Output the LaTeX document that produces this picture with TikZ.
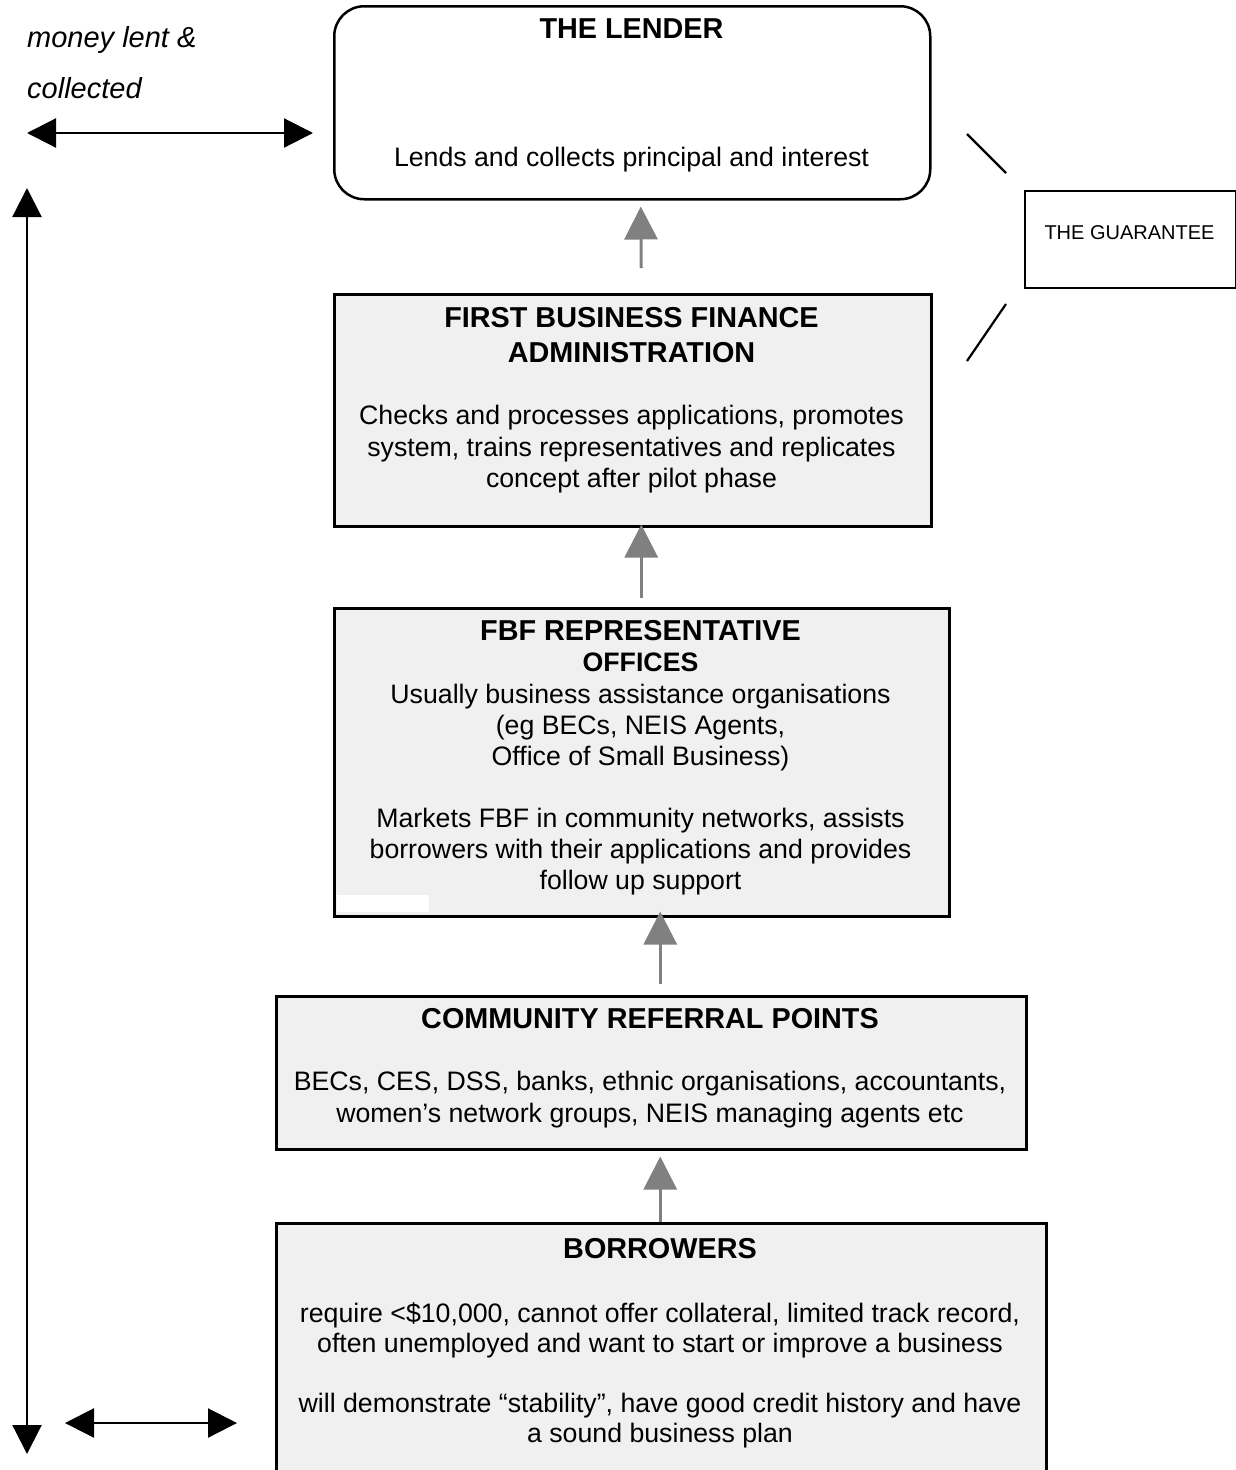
\documentclass[tikz,border=0pt]{standalone}
\usepackage{fontspec}
\setmainfont{Liberation Sans}
\usetikzlibrary{arrows.meta}
\definecolor{boxfill}{RGB}{240,240,240}
\definecolor{arrowgray}{RGB}{128,128,128}
\begin{document}
\begin{tikzpicture}[x=1pt,y=-1pt,
  box/.style={draw=black, line width=2.5pt, fill=boxfill, anchor=north west, inner sep=0pt},
  body/.style={anchor=base, inner sep=0pt, font=\fontsize{26.7}{31}\selectfont},
  title/.style={anchor=base, inner sep=0pt, font=\fontsize{28.8}{33}\selectfont\bfseries},
  garrow/.style={draw=arrowgray, line width=3pt, -{Triangle[width=33pt,length=33pt]}},
  barrow/.style={draw=black, line width=2.2pt, {Triangle[width=29pt,length=29pt]}-{Triangle[width=29pt,length=29pt]}},
  thinline/.style={draw=black, line width=2.2pt}
]
\clip (0,0) rectangle (1236,1470);
\fill[white] (0,0) rectangle (1236,1470);

% boxes
\node[box, fill=white, rounded corners=30pt, minimum width=596pt, minimum height=193pt] (lender) at (333,5) {};
\node[box, minimum width=597pt, minimum height=232pt] (fbf) at (333,293) {};
\node[box, minimum width=615pt, minimum height=308pt] (rep) at (333,607) {};
\fill[white] (337,895) rectangle (429,912);
\node[box, minimum width=750pt, minimum height=153pt] (comm) at (275,995) {};
\node[box, minimum width=770pt, minimum height=320pt] (borr) at (275,1222) {};
\node[box, fill=white, line width=2pt, minimum width=211pt, minimum height=97pt] (guar) at (1024,190) {};

% lender text
\node[title] (t1) at (631.5,38) {THE LENDER};
\node[body] (t2) at (631.5,166) {Lends and collects principal and interest};

% fbf text
\node[title] (t3) at (631.5,327) {FIRST BUSINESS FINANCE};
\node[title] (t4) at (631.5,362) {ADMINISTRATION};
\node[body] (t5) at (631.5,424) {Checks and processes applications, promotes};
\node[body] (t6) at (631.5,456) {system, trains representatives and replicates};
\node[body] (t7) at (631.5,487) {concept after pilot phase};

% rep text
\node[title] (t8) at (640.5,640) {FBF REPRESENTATIVE};
\node[body, font=\fontsize{26.7}{31}\selectfont\bfseries] (t9) at (640.5,671) {OFFICES};
\node[body] (t10) at (640.5,703) {Usually business assistance organisations};
\node[body] (t11) at (640.5,734) {(eg BECs, NEIS Agents,};
\node[body] (t12) at (640.5,765) {Office of Small Business)};
\node[body] (t13) at (640.5,827) {Markets FBF in community networks, assists};
\node[body] (t14) at (640.5,858) {borrowers with their applications and provides};
\node[body] (t15) at (640.5,889) {follow up support};

% community text
\node[title] (t16) at (650,1028) {COMMUNITY REFERRAL POINTS};
\node[body] (t17) at (650,1090) {BECs, CES, DSS, banks, ethnic organisations, accountants,};
\node[body] (t18) at (650,1122) {women’s network groups, NEIS managing agents etc};

% borrowers text
\node[title] (t19) at (660,1258) {BORROWERS};
\node[body] (t20) at (660,1322) {require <\$10,000, cannot offer collateral, limited track record,};
\node[body] (t21) at (660,1352) {often unemployed and want to start or improve a business};
\node[body] (t22) at (660,1412) {will demonstrate “stability”, have good credit history and have};
\node[body] (t23) at (660,1442) {a sound business plan};

% guarantee text
\node[anchor=base, inner sep=0pt, font=\fontsize{20}{24}\selectfont] (t24) at (1129.5,239) {THE GUARANTEE};

% italic label
\node[anchor=base west, inner sep=0pt, font=\fontsize{29}{34}\selectfont\itshape] (m1) at (27,47) {money lent \&};
\node[anchor=base west, inner sep=0pt, font=\fontsize{29}{34}\selectfont\itshape] (m2) at (27,98) {collected};

% gray arrows
\draw[garrow] ([xshift=8.5pt,yshift=25pt]fbf.north) -- ([xshift=8.5pt,yshift=-6pt]lender.south);
\draw[garrow] ([xshift=-0.5pt,yshift=9pt]rep.north) -- ([xshift=8.5pt,yshift=3pt]fbf.south);
\draw[garrow] ([xshift=9pt,yshift=11pt]comm.north) -- ([xshift=18.5pt,yshift=6pt]rep.south);
\draw[garrow] ([xshift=-1pt]borr.north) -- ([xshift=9pt,yshift=-6pt]comm.south);

% black arrows
\coordinate (a1) at (27,133);
\coordinate (a2) at (313,133);
\coordinate (v1) at (27,188);
\coordinate (v2) at (27,1454);
\coordinate (b1) at (65,1423);
\coordinate (b2) at (237,1423);
\draw[barrow] (a1) -- (a2);
\draw[barrow] (v1) -- (v2);
\draw[barrow] (b1) -- (b2);

% guarantee lines
\coordinate (g1) at (967,134);
\coordinate (g2) at (1006,173);
\coordinate (g3) at (1006,304);
\coordinate (g4) at (967,361);
\draw[thinline] (g1) -- (g2);
\draw[thinline] (g3) -- (g4);
\end{tikzpicture}
\end{document}
